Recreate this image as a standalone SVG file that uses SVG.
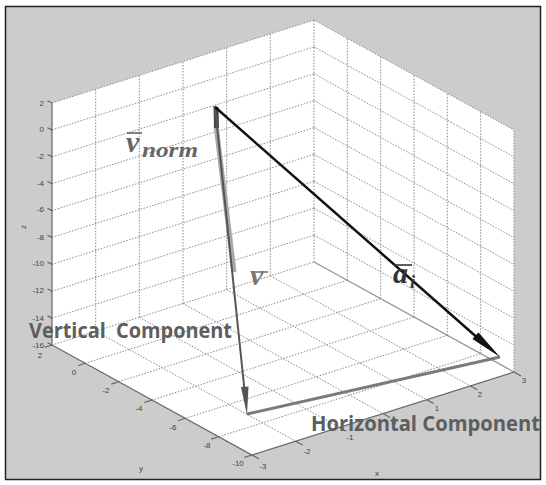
<svg xmlns="http://www.w3.org/2000/svg" width="546" height="485" viewBox="0 0 546 485">
<style>
.grid{fill:none;stroke:#8a8a8a;stroke-width:1;stroke-dasharray:1.5 1.5}
.axis{fill:none;stroke:#666;stroke-width:1.2}
.tick{font-family:"Liberation Sans",Arial,sans-serif;font-size:8px;fill:#444}
.big{font-family:"Open Sans","Liberation Sans",sans-serif;font-weight:700;font-size:21px;fill:#5e5e5e}
.math{font-family:"Liberation Serif","DejaVu Serif",serif;font-style:italic;font-weight:700}
</style>
<rect x="0" y="0" width="546" height="485" fill="#fff"/>
<rect x="5.5" y="6.5" width="535" height="473" fill="#cccccc" stroke="#222" stroke-width="1.5"/>
<g id="plot-box">
<polygon points="52,103 314,20 514,130 514,372 252,455 52,345" fill="#fff"/>
<g class="grid">
<path d="M95.7,331.2V89.2M139.3,317.3V75.3M183,303.5V61.5M226.7,289.7V47.7M270.3,275.8V33.8M314,262V20"/>
<path d="M52,103L314,20M52,129.9L314,46.9M52,156.8L314,73.8M52,183.7L314,100.7M52,210.6L314,127.6M52,237.4L314,154.4M52,264.3L314,181.3M52,291.2L314,208.2M52,318.1L314,235.1M52,345L314,262"/>
<path d="M347.3,280.3V38.3M380.7,298.7V56.7M414,317V75M447.3,335.3V93.3M480.7,353.7V111.7M514,372V130"/>
<path d="M314,20L514,130M314,46.9L514,156.9M314,73.8L514,183.8M314,100.7L514,210.7M314,127.6L514,237.6M314,154.4L514,264.4M314,181.3L514,291.3M314,208.2L514,318.2M314,235.1L514,345.1M314,262L514,372"/>
<path d="M95.7,331.2L295.7,441.2M139.3,317.3L339.3,427.3M183,303.5L383,413.5M226.7,289.7L426.7,399.7M270.3,275.8L470.3,385.8"/>
<path d="M85.3,363.3L347.3,280.3M118.7,381.7L380.7,298.7M152,400L414,317M185.3,418.3L447.3,335.3M218.7,436.7L480.7,353.7"/>
</g>
<g class="axis">
<path d="M52,103V345L252,455L514,372"/>
<path d="M314,262L514,372" stroke="#999"/>
<path d="M52,103l-4.5,-2.2M52,129.9l-4.5,-2.2M52,156.8l-4.5,-2.2M52,183.7l-4.5,-2.2M52,210.6l-4.5,-2.2M52,237.4l-4.5,-2.2M52,264.3l-4.5,-2.2M52,291.2l-4.5,-2.2M52,318.1l-4.5,-2.2M52,345l-4.5,-2.2"/>
<path d="M52,345l-7.5,2.4M85.3,363.3l-7.5,2.4M118.7,381.7l-7.5,2.4M152,400l-7.5,2.4M185.3,418.3l-7.5,2.4M218.7,436.7l-7.5,2.4M252,455l-7.5,2.4"/>
<path d="M252,455l7,3.9M295.7,441.2l7,3.9M339.3,427.3l7,3.9M383,413.5l7,3.9M426.7,399.7l7,3.9M470.3,385.8l7,3.9M514,372l7,3.9"/>
</g>
</g>
<g id="z-ticks" class="tick" text-anchor="end">
<text x="44" y="106">2</text><text x="44" y="132">0</text><text x="44" y="159">-2</text><text x="44" y="186">-4</text><text x="44" y="212">-6</text><text x="44" y="240">-8</text><text x="44" y="266">-10</text><text x="44" y="293">-12</text><text x="44" y="321">-14</text><text x="44" y="348">-16</text>
</g>
<g id="y-ticks" class="tick" text-anchor="middle">
<text x="40" y="358">2</text><text x="74" y="375">0</text><text x="106" y="393">-2</text><text x="139" y="411">-4</text><text x="173" y="430">-6</text><text x="207" y="448">-8</text><text x="238" y="466">-10</text>
</g>
<g id="x-ticks" class="tick" text-anchor="middle">
<text x="263" y="469">-3</text><text x="307" y="454">-2</text><text x="350" y="440">-1</text><text x="394" y="425">0</text><text x="437" y="411">1</text><text x="480" y="397">2</text><text x="524" y="383">3</text>
</g>
<g id="axis-labels" class="tick">
<text x="377" y="476" text-anchor="middle">x</text>
<text x="141" y="471" text-anchor="middle">y</text>
<text transform="translate(26,227) rotate(-90)" text-anchor="middle">z</text>
</g>
<g id="connectors">
<path d="M216,125L234,272" stroke="#a8a8a8" stroke-width="5" fill="none"/>
<polygon points="213.5,106 218.5,107 219,128 214,128" fill="#444"/>
<path d="M215,107L244.5,390" stroke="#555" stroke-width="2" fill="none"/>
<polygon points="247,415 241,387 248.5,386.5" fill="#555"/>
<path d="M247,414L500,357" stroke="#7a7a7a" stroke-width="3" fill="none"/>
<path d="M215,107L480,340" stroke="#111" stroke-width="2.5" fill="none"/>
<polygon points="500,357 472.5,339 476,335 478.5,332.5" fill="#111"/>
</g>
<g id="labels">
<g id="label-vnorm" fill="#666">
<text class="math" x="126" y="152" font-size="30">v</text>
<line x1="127" y1="133" x2="142" y2="133" stroke="#666" stroke-width="1.6"/>
<text class="math" x="142" y="157" font-size="22" textLength="56" lengthAdjust="spacingAndGlyphs">norm</text>
</g>
<g id="label-v" fill="#777">
<text class="math" x="250" y="285" font-size="30">v</text>
<line x1="251" y1="272" x2="268" y2="272" stroke="#777" stroke-width="1.6"/>
</g>
<g id="label-ai" fill="#333">
<text class="math" x="393" y="283" font-size="30">a</text>
<text class="math" x="410" y="288" font-size="18">i</text>
<line x1="394" y1="265" x2="412" y2="265" stroke="#333" stroke-width="1.6"/>
</g>
<text id="label-vertical" class="big" x="29" y="338" textLength="203" lengthAdjust="spacingAndGlyphs" xml:space="preserve">Vertical  Component</text>
<text id="label-horizontal" class="big" x="311" y="431" textLength="229" lengthAdjust="spacingAndGlyphs">Horizontal Component</text>
</g>
</svg>
